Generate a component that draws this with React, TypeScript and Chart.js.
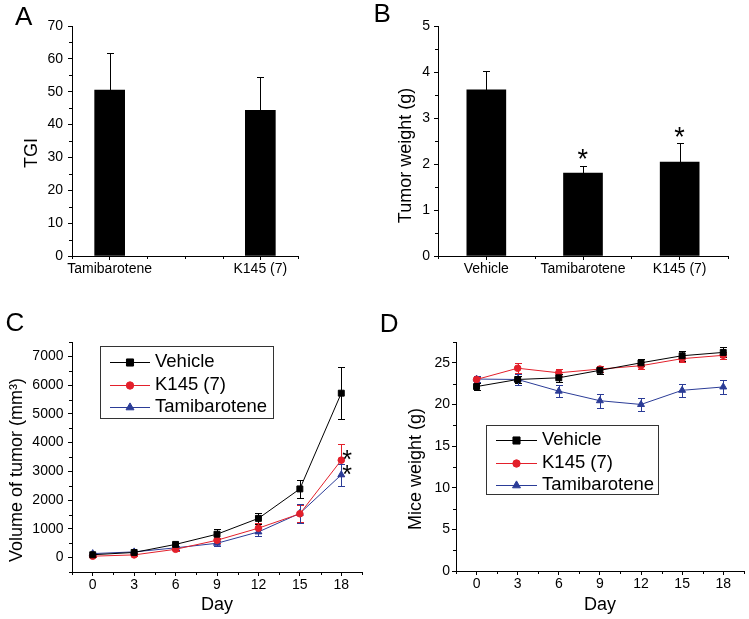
import React, { useEffect, useRef } from 'react';
import { Chart, registerables } from 'chart.js';

Chart.register(...registerables);

const FONT = '"Liberation Sans", Arial, Helvetica, sans-serif';
const BLACK = '#000000';
const RED = '#e3202b';
const BLUE = '#2b3c97';

// ---------------- Data ----------------
// Panel A: tumour growth inhibition
const tgiCategories = ['Tamibarotene', 'K145 (7)'];
const tgiValues = [50.5, 44.3];
const tgiErrors = [11.4, 10.3];
const tgiYTicks = [0, 10, 20, 30, 40, 50, 60, 70];
const tgiYMinor = [5, 15, 25, 35, 45, 55, 65];
const tgiXMinor = [0.75, 1.25, 1.5, 1.75, 2.25];

// Panel B: tumour weight
const weightCategories = ['Vehicle', 'Tamibarotene', 'K145 (7)'];
const weightValues = [3.61, 1.8, 2.04];
const weightErrors = [0.42, 0.16, 0.41];
const weightSignificant = [false, true, true];
const weightYTicks = [0, 1, 2, 3, 4, 5];
const weightYMinor = [0.5, 1.5, 2.5, 3.5, 4.5];
const weightXMinor = [0.5, 1.5, 2.5, 3.5];

// Series names (panels C and D)
const seriesNames = ['Vehicle', 'K145 (7)', 'Tamibarotene'];

// Panel C: tumour volume (mm3)
const days = [0, 3, 6, 9, 12, 15, 18];
const dayTicks = [0, 3, 6, 9, 12, 15, 18];
const dayMinor = [-1.5, 1.5, 4.5, 7.5, 10.5, 13.5, 16.5, 19.5];
const volVehicle = [100, 180, 460, 815, 1365, 2390, 5720];
const volVehicleErr = [30, 40, 60, 165, 185, 300, 905];
const volK145 = [50, 95, 290, 605, 1025, 1525, 3390];
const volK145Err = [20, 30, 50, 90, 170, 300, 560];
const volTami = [140, 200, 340, 500, 895, 1540, 2880];
const volTamiErr = [30, 40, 60, 80, 150, 320, 385];
const volumeSignificant = [false, true, true];
const volumeYTicks = [0, 1000, 2000, 3000, 4000, 5000, 6000, 7000];
const volumeYMinor = [-500, 500, 1500, 2500, 3500, 4500, 5500, 6500, 7500];

// Panel D: mice body weight (g)
const miceVehicle = [22.15, 23.0, 23.2, 24.1, 25.0, 25.85, 26.25];
const miceVehicleErr = [0.4, 0.4, 0.5, 0.5, 0.4, 0.6, 0.6];
const miceK145 = [23.0, 24.35, 23.8, 24.25, 24.65, 25.5, 25.9];
const miceK145Err = [0.3, 0.6, 0.4, 0.35, 0.4, 0.4, 0.4];
const miceTami = [23.05, 23.0, 21.6, 20.45, 20.0, 21.7, 22.1];
const miceTamiErr = [0.4, 0.65, 0.75, 0.85, 0.8, 0.8, 0.8];
const miceYTicks = [0, 5, 10, 15, 20, 25];
const miceYMinor = [2.5, 7.5, 12.5, 17.5, 22.5, 27.5];

// ---------------- Helpers ----------------
type Geo = { w: number; h: number; l: number; t: number; r: number; b: number };

function yScale(min: number, max: number, ticks: number[], width: number, pad: number) {
  return {
    type: 'linear',
    position: 'left',
    min,
    max,
    afterFit: (s: any) => { s.width = width; },
    afterBuildTicks: (s: any) => { s.ticks = ticks.map((v) => ({ value: v })); },
    grid: { drawOnChartArea: false, drawTicks: true, tickLength: 4, tickColor: BLACK, tickWidth: 1 },
    border: { display: true, color: BLACK, width: 1 },
    ticks: { color: BLACK, font: { family: FONT, size: 14 }, padding: pad, callback: (v: any) => String(v) },
    title: { display: false },
  };
}

function xScale(min: number, max: number, ticks: number[], label: (v: number) => string, height: number, title?: string) {
  return {
    type: 'linear',
    position: 'bottom',
    min,
    max,
    offset: false,
    afterFit: (s: any) => { s.height = height; },
    afterBuildTicks: (s: any) => { s.ticks = ticks.map((v) => ({ value: v })); },
    grid: { drawOnChartArea: false, drawTicks: true, tickLength: 4, tickColor: BLACK, tickWidth: 1, offset: false },
    border: { display: true, color: BLACK, width: 1 },
    ticks: { color: BLACK, font: { family: FONT, size: 14 }, padding: 1, maxRotation: 0, autoSkip: false, callback: (v: any) => label(Number(v)) },
    title: title
      ? { display: true, text: title, color: BLACK, font: { family: FONT, size: 18 }, padding: { top: 0, bottom: 3 } }
      : { display: false },
  };
}

function minorTicksPlugin(xv: number[], yv: number[], len: number) {
  return {
    id: 'minorTicks',
    afterDraw(chart: any) {
      const { ctx, chartArea } = chart;
      const xs = chart.scales.x;
      const ys = chart.scales.y;
      ctx.save();
      ctx.strokeStyle = BLACK;
      ctx.lineWidth = 1;
      ctx.beginPath();
      xv.forEach((v) => {
        const px = Math.round(xs.getPixelForValue(v)) + 0.5;
        ctx.moveTo(px, chartArea.bottom);
        ctx.lineTo(px, chartArea.bottom + len);
      });
      yv.forEach((v) => {
        const py = Math.round(ys.getPixelForValue(v)) + 0.5;
        ctx.moveTo(chartArea.left - len, py);
        ctx.lineTo(chartArea.left, py);
      });
      ctx.stroke();
      ctx.restore();
    },
  };
}

function errorBarPlugin(capHalf: number, before: boolean) {
  const draw = (chart: any) => {
    const { ctx } = chart;
    const ys = chart.scales.y;
    chart.data.datasets.forEach((ds: any, i: number) => {
      if (!ds.errors) return;
      const meta = chart.getDatasetMeta(i);
      ctx.save();
      ctx.strokeStyle = ds.errorColor || BLACK;
      ctx.lineWidth = 1;
      ctx.beginPath();
      meta.data.forEach((el: any, j: number) => {
        const v = ds.data[j].y;
        const e = ds.errors[j];
        const x = Math.round(el.x) + 0.5;
        const yTop = Math.round(ys.getPixelForValue(v + e)) + 0.5;
        const yBot = Math.round(ys.getPixelForValue(v - e)) + 0.5;
        ctx.moveTo(x, yTop);
        ctx.lineTo(x, yBot);
        ctx.moveTo(x - capHalf, yTop);
        ctx.lineTo(x + capHalf, yTop);
        ctx.moveTo(x - capHalf, yBot);
        ctx.lineTo(x + capHalf, yBot);
      });
      ctx.stroke();
      ctx.restore();
    });
  };
  return before
    ? { id: 'errorBars', beforeDatasetsDraw: draw }
    : { id: 'errorBars', afterDatasetsDraw: draw };
}

function drawStar(ctx: CanvasRenderingContext2D, cx: number, cy: number, size: number) {
  ctx.save();
  ctx.font = `${size}px ${FONT}`;
  ctx.textAlign = 'left';
  ctx.textBaseline = 'alphabetic';
  const m = ctx.measureText('*');
  const x = cx - (m.actualBoundingBoxRight - m.actualBoundingBoxLeft) / 2;
  const y = cy + (m.actualBoundingBoxAscent - m.actualBoundingBoxDescent) / 2;
  ctx.fillStyle = BLACK;
  ctx.fillText('*', x, y);
  ctx.restore();
}

function drawMarker(ctx: CanvasRenderingContext2D, style: string, x: number, y: number, r: number, color: string) {
  ctx.save();
  ctx.fillStyle = color;
  ctx.strokeStyle = color;
  ctx.lineWidth = 1;
  ctx.beginPath();
  if (style === 'rect') {
    const s = r * Math.SQRT1_2;
    ctx.rect(x - s, y - s, 2 * s, 2 * s);
  } else if (style === 'circle') {
    ctx.arc(x, y, r, 0, Math.PI * 2);
  } else {
    let a = 0;
    ctx.moveTo(x + Math.sin(a) * r, y - Math.cos(a) * r);
    a += (2 * Math.PI) / 3;
    ctx.lineTo(x + Math.sin(a) * r, y - Math.cos(a) * r);
    a += (2 * Math.PI) / 3;
    ctx.lineTo(x + Math.sin(a) * r, y - Math.cos(a) * r);
    ctx.closePath();
  }
  ctx.fill();
  ctx.stroke();
  ctx.restore();
}

function drawYTitle(ctx: CanvasRenderingContext2D, text: string, cx: number, cy: number) {
  ctx.save();
  ctx.translate(cx, cy);
  ctx.rotate(-Math.PI / 2);
  ctx.font = `18px ${FONT}`;
  ctx.fillStyle = BLACK;
  ctx.textAlign = 'center';
  ctx.textBaseline = 'middle';
  ctx.fillText(text, 0, 0);
  ctx.restore();
}

function drawLetter(ctx: CanvasRenderingContext2D, text: string, x: number, y: number) {
  ctx.save();
  ctx.font = `26px ${FONT}`;
  ctx.fillStyle = BLACK;
  ctx.textAlign = 'left';
  ctx.textBaseline = 'alphabetic';
  ctx.fillText(text, x, y);
  ctx.restore();
}

type LegendItem = { label: string; color: string; style: string; r: number };

function drawLegend(
  ctx: CanvasRenderingContext2D,
  box: { x: number; y: number; w: number; h: number },
  items: LegendItem[],
  firstY: number,
  gap: number,
  segX0: number,
  segX1: number,
  textX: number,
) {
  ctx.save();
  ctx.strokeStyle = '#333333';
  ctx.lineWidth = 1;
  ctx.strokeRect(box.x + 0.5, box.y + 0.5, box.w, box.h);
  items.forEach((it, i) => {
    const y = firstY + i * gap;
    ctx.strokeStyle = it.color;
    ctx.lineWidth = 1;
    ctx.beginPath();
    ctx.moveTo(segX0, Math.round(y) + 0.5);
    ctx.lineTo(segX1, Math.round(y) + 0.5);
    ctx.stroke();
    drawMarker(ctx, it.style, (segX0 + segX1) / 2, Math.round(y) + 0.5, it.r, it.color);
    ctx.font = `18.5px ${FONT}`;
    ctx.fillStyle = BLACK;
    ctx.textAlign = 'left';
    ctx.textBaseline = 'middle';
    ctx.fillText(it.label, textX, y);
  });
  ctx.restore();
}

function baseOptions(geo: Geo) {
  return {
    responsive: false,
    maintainAspectRatio: false,
    animation: false,
    devicePixelRatio: 1,
    layout: { padding: { left: 0, top: geo.t, right: geo.w - geo.r, bottom: 0 } },
    plugins: { legend: { display: false }, tooltip: { enabled: false } },
  };
}

const seriesColors = [BLACK, RED, BLUE];
const seriesStyles = ['rect', 'circle', 'triangle'];
const seriesRadius = [4.2, 3.3, 4];
const legendRadius = [5, 3.7, 4.6];

function lineDatasets(values: number[][], errors: number[][]) {
  return values.map((vals, i) => ({
    label: seriesNames[i],
    data: days.map((d, j) => ({ x: d, y: vals[j] })),
    errors: errors[i],
    errorColor: seriesColors[i],
    borderColor: seriesColors[i],
    backgroundColor: seriesColors[i],
    borderWidth: 1,
    pointStyle: seriesStyles[i],
    pointRadius: seriesRadius[i],
    pointBackgroundColor: seriesColors[i],
    pointBorderColor: seriesColors[i],
    pointBorderWidth: 1,
    tension: 0,
    fill: false,
  }));
}

const legendItems: LegendItem[] = seriesNames.map((n, i) => ({
  label: n,
  color: seriesColors[i],
  style: seriesStyles[i],
  r: legendRadius[i],
}));

// ---------------- Panel configs ----------------
const geoA: Geo = { w: 375, h: 300, l: 72, t: 26, r: 298, b: 256 };
const geoB: Geo = { w: 374, h: 300, l: 63, t: 26, r: 353, b: 256 };
const geoC: Geo = { w: 375, h: 319, l: 72, t: 42, r: 362, b: 272 };
const geoD: Geo = { w: 374, h: 319, l: 81, t: 42, r: 370, b: 271 };

function buildA(): any {
  return {
    type: 'bar',
    data: {
      datasets: [
        {
          data: tgiValues.map((v, i) => ({ x: i + 1, y: v })),
          errors: tgiErrors,
          backgroundColor: BLACK,
          borderWidth: 0,
          barThickness: 30,
        },
      ],
    },
    options: {
      ...baseOptions(geoA),
      scales: {
        x: xScale(0.75, 2.25, [1, 2], (v) => tgiCategories[v - 1] ?? '', geoA.h - geoA.b),
        y: yScale(0, 70, tgiYTicks, geoA.l, 5),
      },
    },
    plugins: [
      errorBarPlugin(3.5, false),
      minorTicksPlugin(tgiXMinor, tgiYMinor, 3),
      {
        id: 'annot',
        afterDraw(chart: any) {
          const ctx = chart.ctx;
          drawLetter(ctx, 'A', 15, 25);
          drawYTitle(ctx, 'TGI', 32.3, 153);
        },
      },
    ],
  };
}

function buildB(): any {
  return {
    type: 'bar',
    data: {
      datasets: [
        {
          data: weightValues.map((v, i) => ({ x: i + 1, y: v })),
          errors: weightErrors,
          backgroundColor: BLACK,
          borderWidth: 0,
          barThickness: 39,
        },
      ],
    },
    options: {
      ...baseOptions(geoB),
      scales: {
        x: xScale(0.5, 3.5, [1, 2, 3], (v) => weightCategories[v - 1] ?? '', geoB.h - geoB.b),
        y: yScale(0, 5, weightYTicks, geoB.l, 4),
      },
    },
    plugins: [
      errorBarPlugin(3.5, false),
      minorTicksPlugin(weightXMinor, weightYMinor, 3),
      {
        id: 'annot',
        afterDraw(chart: any) {
          const ctx = chart.ctx;
          const xs = chart.scales.x;
          const ys = chart.scales.y;
          drawLetter(ctx, 'B', -1.5, 21.7);
          drawYTitle(ctx, 'Tumor weight (g)', 30.7, 155.5);
          weightSignificant.forEach((sig, i) => {
            if (!sig) return;
            const cx = xs.getPixelForValue(i + 1);
            const cy = ys.getPixelForValue(weightValues[i] + weightErrors[i]) - 11.5;
            drawStar(ctx, cx, cy, 27);
          });
        },
      },
    ],
  };
}

function buildC(): any {
  const vals = [volVehicle, volK145, volTami];
  return {
    type: 'line',
    data: { datasets: lineDatasets(vals, [volVehicleErr, volK145Err, volTamiErr]) },
    options: {
      ...baseOptions(geoC),
      scales: {
        x: xScale(-1.5, 19.5, dayTicks, (v) => String(v), geoC.h - geoC.b, 'Day'),
        y: yScale(-500, 7500, volumeYTicks, geoC.l, 4.5),
      },
    },
    plugins: [
      errorBarPlugin(3.5, true),
      minorTicksPlugin(dayMinor, volumeYMinor, 3),
      {
        id: 'annot',
        afterDraw(chart: any) {
          const ctx = chart.ctx;
          const xs = chart.scales.x;
          const ys = chart.scales.y;
          drawLetter(ctx, 'C', 5.4, 31);
          drawYTitle(ctx, 'Volume of tumor (mm³)', 17, 170);
          const last = days.length - 1;
          volumeSignificant.forEach((sig, i) => {
            if (!sig) return;
            const cx = xs.getPixelForValue(days[last]) + 6;
            const cy = ys.getPixelForValue(vals[i][last]) - 5;
            drawStar(ctx, cx, cy, 25);
          });
          drawLegend(ctx, { x: 100, y: 46, w: 173, h: 72 }, legendItems, 62.3, 22.2, 110, 150, 155);
        },
      },
    ],
  };
}

function buildD(): any {
  return {
    type: 'line',
    data: {
      datasets: lineDatasets([miceVehicle, miceK145, miceTami], [miceVehicleErr, miceK145Err, miceTamiErr]),
    },
    options: {
      ...baseOptions(geoD),
      scales: {
        x: xScale(-1.5, 19.5, dayTicks, (v) => String(v), geoD.h - geoD.b, 'Day'),
        y: yScale(0, 27.5, miceYTicks, geoD.l, 2),
      },
    },
    plugins: [
      errorBarPlugin(3.5, true),
      minorTicksPlugin(dayMinor, miceYMinor, 3),
      {
        id: 'annot',
        afterDraw(chart: any) {
          const ctx = chart.ctx;
          drawLetter(ctx, 'D', 4.7, 31.7);
          drawYTitle(ctx, 'Mice weight (g)', 40.7, 169);
          drawLegend(ctx, { x: 111, y: 125, w: 172, h: 69 }, legendItems, 140, 22.7, 121, 162, 167);
        },
      },
    ],
  };
}

function Panel(props: { left: number; top: number; geo: Geo; build: () => any }) {
  const ref = useRef<HTMLCanvasElement>(null);
  useEffect(() => {
    const chart = new Chart(ref.current as HTMLCanvasElement, props.build());
    return () => chart.destroy();
  }, []);
  const { left, top, geo } = props;
  return (
    <canvas
      ref={ref}
      width={geo.w}
      height={geo.h}
      style={{ position: 'absolute', left, top, width: geo.w, height: geo.h, display: 'block' }}
    />
  );
}

export default function App() {
  return (
    <div style={{ position: 'absolute', left: 0, top: 0, width: 749, height: 619, background: '#ffffff' }}>
      <Panel left={0} top={0} geo={geoA} build={buildA} />
      <Panel left={375} top={0} geo={geoB} build={buildB} />
      <Panel left={0} top={300} geo={geoC} build={buildC} />
      <Panel left={375} top={300} geo={geoD} build={buildD} />
    </div>
  );
}
